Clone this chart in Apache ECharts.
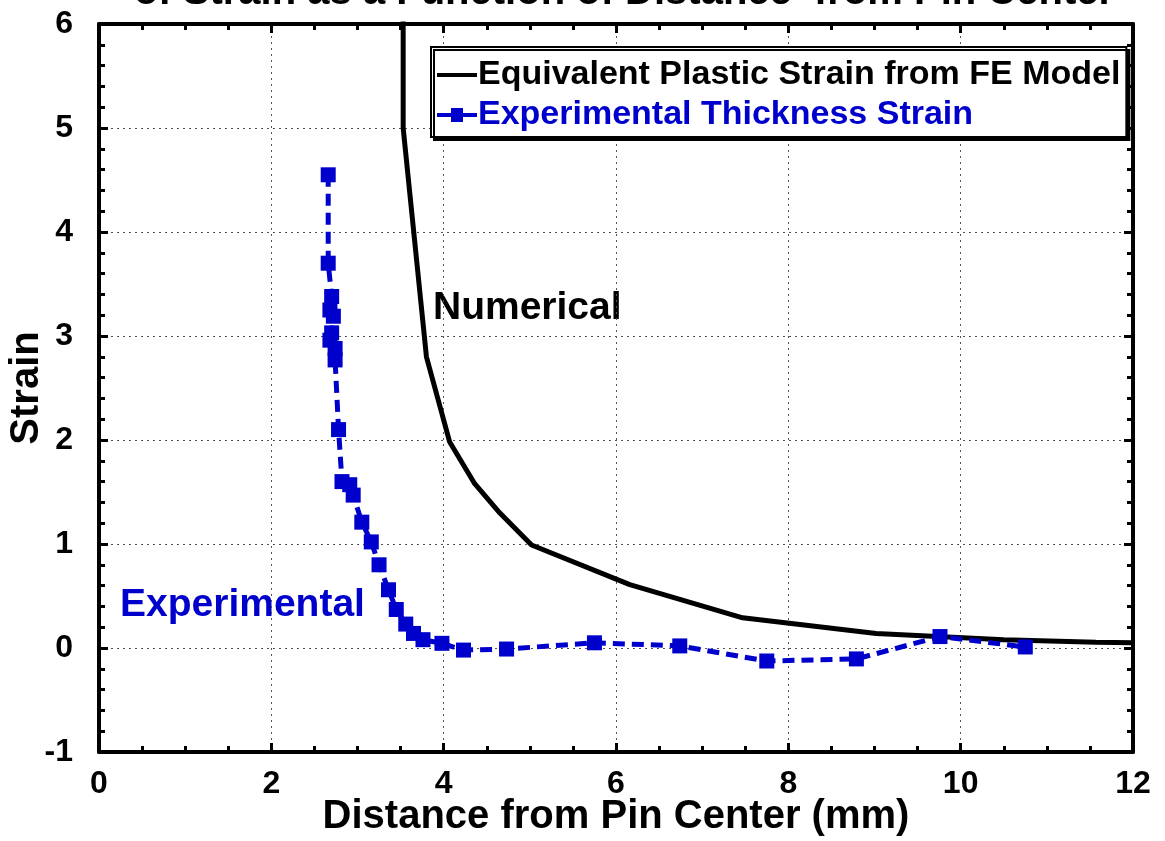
<!DOCTYPE html>
<html>
<head>
<meta charset="utf-8">
<script src="https://cdn.jsdelivr.net/npm/echarts@6/dist/echarts.min.js"></script>
<style>
html,body{margin:0;padding:0;background:#fff;}
#chart{width:1165px;height:841px;}
</style>
</head>
<body>
<div id="chart"></div>
<script>
// ---- data ----
const numericalX = [3.53, 3.53, 3.80, 4.07, 4.36, 4.65, 5.02, 6.16, 7.47, 9.02, 10.5, 11.57, 12.0];
const numericalY = [6.2, 5.0, 2.80, 1.98, 1.58, 1.30, 0.99, 0.61, 0.29, 0.14, 0.08, 0.055, 0.05];

const experimentalX = [2.66, 2.66, 2.70, 2.68, 2.72, 2.70, 2.68, 2.74, 2.74, 2.78, 2.82, 2.91, 2.95, 3.05,
  3.16, 3.25, 3.36, 3.45, 3.56, 3.65, 3.76, 3.98, 4.23, 4.73, 5.75, 6.74, 7.75, 8.79, 9.76, 10.75];
const experimentalY = [4.55, 3.70, 3.38, 3.25, 3.19, 3.03, 2.96, 2.88, 2.77, 2.10, 1.60, 1.57, 1.47, 1.21,
  1.02, 0.80, 0.56, 0.37, 0.23, 0.14, 0.08, 0.045, -0.02, -0.01, 0.05, 0.02, -0.125, -0.105, 0.11, 0.01];

const seriesNames = ['Equivalent Plastic Strain from FE Model', 'Experimental Thickness Strain'];
const titleText = 'of Strain as a Function of Distance  from Pin Center';
const xName = 'Distance from Pin Center (mm)';
const yName = 'Strain';

const FONT = '"Liberation Sans", Arial, Helvetica, sans-serif';
const BLUE = '#0000CC';

const zip = (xs, ys) => xs.map((x, i) => [x, ys[i]]);

const chart = echarts.init(document.getElementById('chart'), null, {renderer: 'canvas'});

const gridLine = {show: true, lineStyle: {color: '#555', width: 1, type: [2, 4]}};
const axisLineStyle = {show: true, onZero: false, lineStyle: {color: '#000', width: 4}};
const tickStyle = {show: true, inside: true, length: 9, lineStyle: {color: '#000', width: 3}};
const minorTickStyle = {show: true, splitNumber: 4, length: 6, lineStyle: {color: '#000', width: 3}};

const option = {
  animation: false,
  backgroundColor: '#fff',
  grid: {left: 99, right: 32, top: 24, bottom: 89, containLabel: false, outerBoundsMode: 'none'},
  xAxis: [{
    type: 'value', min: 0, max: 12, interval: 2, position: 'bottom',
    name: xName, nameLocation: 'middle', nameGap: 45, nameMoveOverlap: false,
    nameTextStyle: {fontFamily: FONT, fontWeight: 'bold', fontSize: 40, color: '#000'},
    axisLine: axisLineStyle,
    axisTick: tickStyle,
    minorTick: minorTickStyle,
    axisLabel: {fontFamily: FONT, fontWeight: 'bold', fontSize: 32, color: '#000', margin: 16},
    splitLine: gridLine
  }, {
    type: 'value', min: 0, max: 12, interval: 2, position: 'top',
    axisLine: axisLineStyle,
    axisTick: tickStyle,
    minorTick: minorTickStyle,
    axisLabel: {show: false},
    splitLine: {show: false}
  }],
  yAxis: [{
    type: 'value', min: -1, max: 6, interval: 1, position: 'left',
    name: yName, nameLocation: 'middle', nameGap: 52, nameRotate: 90, nameMoveOverlap: false,
    nameTextStyle: {fontFamily: FONT, fontWeight: 'bold', fontSize: 40, color: '#000'},
    axisLine: axisLineStyle,
    axisTick: tickStyle,
    minorTick: Object.assign({}, minorTickStyle, {splitNumber: 5}),
    axisLabel: {fontFamily: FONT, fontWeight: 'bold', fontSize: 32, color: '#000', margin: 26},
    splitLine: gridLine
  }, {
    type: 'value', min: -1, max: 6, interval: 1, position: 'right',
    axisLine: axisLineStyle,
    axisTick: tickStyle,
    minorTick: Object.assign({}, minorTickStyle, {splitNumber: 5}),
    axisLabel: {show: false},
    splitLine: {show: false}
  }],
  legend: {
    orient: 'vertical', left: 431, top: 47,
    backgroundColor: '#fff', borderColor: '#000', borderWidth: 2,
    shadowColor: '#000', shadowOffsetX: 3, shadowOffsetY: 3, shadowBlur: 0,
    padding: [11, 6, 5, 6], itemGap: 6, itemWidth: 40, itemHeight: 14,
    textStyle: {fontFamily: FONT, fontWeight: 'bold', fontSize: 34, padding: [0, 0, 0, -4]},
    data: [
      {name: seriesNames[0], icon: 'path://M0,0L40,0L40,4L0,4Z', itemStyle: {color: '#000'}, textStyle: {color: '#000'}},
      {name: seriesNames[1], icon: 'path://M0,5L14,5L14,0L26,0L26,5L40,5L40,9L26,9L26,14L14,14L14,9L0,9Z', itemStyle: {color: BLUE}, textStyle: {color: BLUE}}
    ]
  },
  series: [{
    name: seriesNames[0], type: 'line', xAxisIndex: 0, yAxisIndex: 0,
    data: zip(numericalX, numericalY),
    symbol: 'none', clip: true,
    lineStyle: {color: '#000', width: 5},
    itemStyle: {color: '#000'}
  }, {
    name: seriesNames[1], type: 'line', xAxisIndex: 0, yAxisIndex: 0,
    data: zip(experimentalX, experimentalY),
    symbol: 'rect', symbolSize: 15,
    lineStyle: {color: BLUE, width: 5, type: [12, 7]},
    itemStyle: {color: BLUE}
  }],
  graphic: [{
    type: 'text', x: 624, y: -27,
    style: {text: titleText, font: 'bold 40px ' + FONT, fill: '#000', align: 'center', verticalAlign: 'top'}
  }, {
    type: 'text', x: 433, y: 308,
    style: {text: 'Numerical', font: 'bold 39px ' + FONT, fill: '#000', align: 'left', verticalAlign: 'middle'}
  }, {
    type: 'text', x: 120, y: 605,
    style: {text: 'Experimental', font: 'bold 39px ' + FONT, fill: BLUE, align: 'left', verticalAlign: 'middle'}
  }]
};

chart.setOption(option);
</script>
</body>
</html>
